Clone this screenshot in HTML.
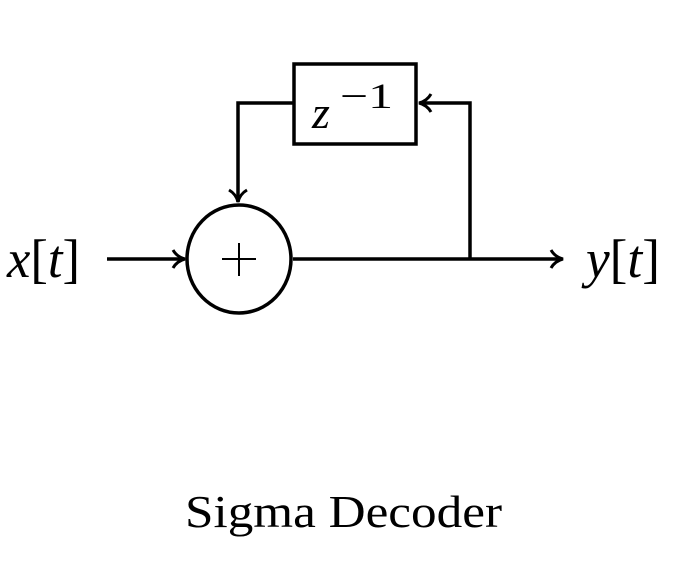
<!DOCTYPE html>
<html><head><meta charset="utf-8"><style>
html,body{margin:0;padding:0;background:#fff;width:681px;height:570px;overflow:hidden}
</style></head><body>
<svg width="681" height="570" viewBox="0 0 681 570" xmlns="http://www.w3.org/2000/svg">
<g fill="none" stroke="#000" stroke-width="3.5" stroke-linecap="butt" stroke-linejoin="miter">
<rect x="294" y="64" width="122" height="80"/>
<ellipse cx="239" cy="259" rx="52" ry="54"/>
<path d="M294 103 H238 V202"/>
<path d="M229 190 Q236 194 238 202 Q240 194 247 190" stroke-width="3"/>
<path d="M293 259 H562"/>
<path d="M551 250 Q555 257 563 259 Q555 261 551 268" stroke-width="3"/>
<path d="M470 259 V103 H420"/>
<path d="M431 94 Q427 101 419 103 Q427 105 431 112" stroke-width="3"/>
<path d="M107 259 H184"/>
<path d="M173 250 Q177 257 185 259 Q177 261 173 268" stroke-width="3"/>
<path d="M239 243 V276 M222 259 H256" stroke-width="2"/>
</g>
<g font-family="'Liberation Serif', serif" fill="#000">
<text x="312" y="128" font-size="46" font-style="italic">z</text>
<text x="340" y="108" font-size="36" textLength="53" lengthAdjust="spacingAndGlyphs">−1</text>
<text x="7" y="277" font-size="54" textLength="73" lengthAdjust="spacingAndGlyphs"><tspan font-style="italic">x</tspan>[<tspan font-style="italic">t</tspan>]</text>
<text x="586" y="277" font-size="54" textLength="74" lengthAdjust="spacingAndGlyphs"><tspan font-style="italic">y</tspan>[<tspan font-style="italic">t</tspan>]</text>
<text x="185" y="527" font-size="46" textLength="317" lengthAdjust="spacingAndGlyphs">Sigma Decoder</text>
</g>
</svg>
</body></html>
